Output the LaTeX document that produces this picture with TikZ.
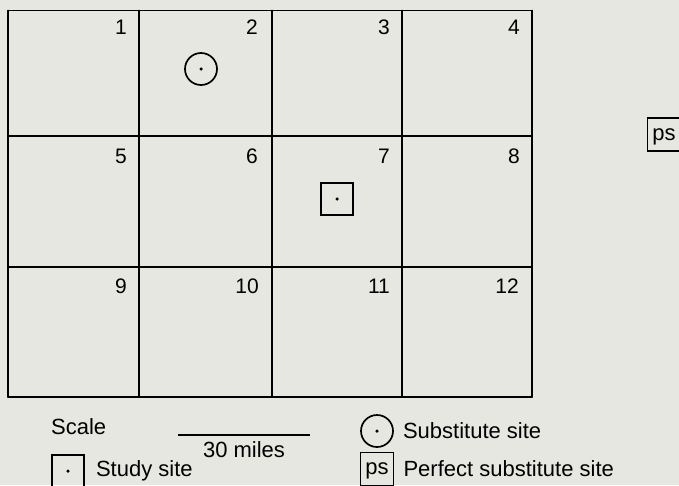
\documentclass[tikz,border=0pt]{standalone}
\usepackage{fontspec}
\setmainfont{Liberation Sans}
\usepackage{tikz}
\usetikzlibrary{positioning,calc}
\definecolor{PaperGrey}{HTML}{E7E7E2}
\tikzset{
  gridline/.style={draw=black, line width=1.9pt, line cap=round},
  cellno/.style={anchor=north east, inner sep=0pt, font=\fontsize{21}{25}\selectfont},
  label/.style={anchor=west, inner sep=0pt, font=\fontsize{22}{26}\selectfont},
  studysite/.style={draw=black, line width=1.7pt, minimum size=32pt, inner sep=0pt},
  subsite/.style={draw=black, circle, line width=1.7pt, minimum size=32pt, inner sep=0pt},
  pssite/.style={draw=black, line width=1.7pt, minimum size=33pt, inner sep=0pt},
  pstext/.style={anchor=base, inner sep=0pt, font=\fontsize{22}{26}\selectfont},
  centredot/.style={fill=black, circle, minimum size=3.5pt, inner sep=0pt}
}

\begin{document}
\begin{tikzpicture}[x=1pt, y=-1pt]
\useasboundingbox[fill=PaperGrey] (0,0) rectangle (679,485);

% grid of twelve cells
\foreach \xa in {8,139,272,402,532}
  \draw[gridline] (\xa,10.5) -- (\xa,397);
\foreach \ya in {10.5,136,267,397}
  \draw[gridline] (8,\ya) -- (532,\ya);

\foreach \n/\xe/\yt in {1/127/20, 2/258/20, 3/390/20, 4/520/20,
                        5/127/149, 6/258/149, 7/390/149, 8/520/149,
                        9/127/279, 10/259/279, 11/390/279, 12/519/279}
  \node[cellno] (cell\n) at (\xe,\yt) {\n};

% sites on the map
\node[subsite] (sub) at (201,69) {};
\node[centredot] at (sub.center) {};
\node[studysite] (study) at (337,199) {};
\node[centredot] at (study.center) {};
\node[pssite] (perfect) at (664,134.5) {};
\node[pstext] at ($(perfect.center)+(0,5.5)$) {ps};

% legend
\node[label] (scale) at (51,427) {Scale};
\coordinate (barL) at (178,435);
\coordinate (barR) at (310,435);
\draw[line width=1.3pt] (barL) -- (barR);
\node[label, anchor=north] (miles) at ($(barL)!0.5!(barR)+(0,6)$) {30 miles};

\node[studysite] (keystudy) at (68,471) {};
\node[centredot] at (keystudy.center) {};
\node[label, right=11pt of keystudy] (keystudytxt) {Study site};

\node[subsite] (keysub) at (377,431) {};
\node[centredot] at (keysub.center) {};
\node[label, right=9pt of keysub] (keysubtxt) {Substitute site};

\node[pssite] (keyps) at (377,469) {};
\node[pstext] at ($(keyps.center)+(0,5.5)$) {ps};
\node[label, right=9pt of keyps] (keypstxt) {Perfect substitute site};
\end{tikzpicture}
\end{document}
